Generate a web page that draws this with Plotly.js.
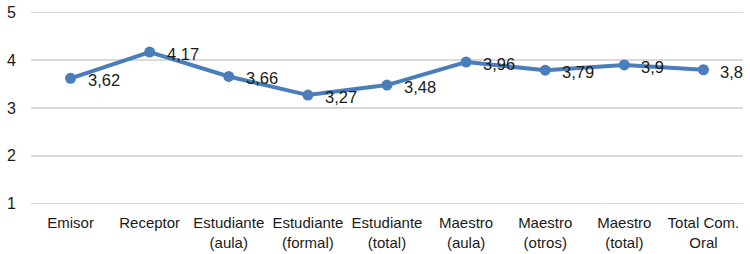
<!DOCTYPE html>
<html>
<head>
<meta charset="utf-8">
<script src="https://cdn.plot.ly/plotly-3.0.1.min.js"></script>
<style>html,body{margin:0;padding:0;background:#fff}#chart{width:750px;height:254px}</style>
</head>
<body>
<div id="chart"></div>
<script>
const categories = ["Emisor", "Receptor", "Estudiante<br>(aula)", "Estudiante<br>(formal)", "Estudiante<br>(total)", "Maestro<br>(aula)", "Maestro<br>(otros)", "Maestro<br>(total)", "Total Com.<br>Oral"];
const values = [3.62, 4.17, 3.66, 3.27, 3.48, 3.96, 3.79, 3.9, 3.8];
const valueLabels = ["3,62", "4,17", "3,66", "3,27", "3,48", "3,96", "3,79", "3,9", "3,8"];
const yTicks = [1, 2, 3, 4, 5];

const FONT = 'Liberation Sans, Arial, sans-serif';
const TXT = '#1a1a1a';

const trace = {
  type: 'scatter',
  mode: 'lines+markers',
  x: categories,
  y: values,
  line: {color: '#4A7EBB', width: 4},
  marker: {color: '#4A7EBB', size: 11},
  cliponaxis: false,
  hoverinfo: 'none'
};

const annotations = categories.map((c, i) => ({
  x: c, y: values[i], xref: 'x', yref: 'y',
  text: valueLabels[i], showarrow: false,
  xanchor: 'left', yanchor: 'middle',
  xshift: 15, yshift: -2,
  font: {family: FONT, size: 16.5, color: TXT}
}));

const layout = {
  width: 750, height: 254,
  margin: {l: 31, r: 7, t: 10, b: 48},
  paper_bgcolor: '#fff', plot_bgcolor: '#fff',
  showlegend: false,
  font: {family: FONT, size: 15, color: TXT},
  annotations: annotations,
  xaxis: {
    type: 'category',
    range: [-0.5, 8.5],
    showgrid: false, zeroline: false, showline: false,
    ticks: '', tickfont: {size: 15, color: TXT},
    ticklabelstandoff: 6
  },
  yaxis: {
    range: [0.95, 5.05],
    tickvals: yTicks,
    ticktext: yTicks.map(String),
    showgrid: true, gridcolor: '#D9D9D9', gridwidth: 1.5,
    zeroline: false, showline: false,
    ticks: '', tickfont: {size: 16, color: TXT},
    ticklabelstandoff: 14
  }
};

Plotly.newPlot('chart', [trace], layout, {displayModeBar: false, staticPlot: true});
</script>
</body>
</html>
